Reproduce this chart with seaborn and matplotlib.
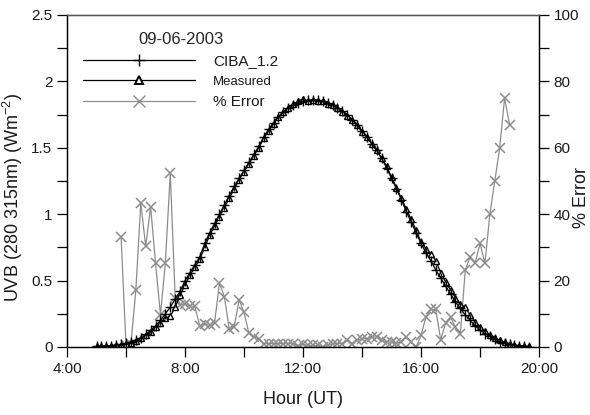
import numpy as np
import pandas as pd
import matplotlib
matplotlib.use("Agg")
import matplotlib.pyplot as plt
import seaborn as sns
from matplotlib.ticker import MultipleLocator, FuncFormatter
from matplotlib.lines import Line2D

# ---- data ----
# UVB series: 10-minute samples from 5:00 to 19:40 UT (hours)
uvb_hours = [5 + k / 6 for k in range(89)]
ciba = [0.004, 0.006, 0.008, 0.011, 0.015, 0.020, 0.027, 0.036, 0.05, 0.07,
        0.095, 0.125, 0.16, 0.20, 0.25, 0.30, 0.36, 0.42, 0.50, 0.56,
        0.62, 0.68, 0.78, 0.86, 0.93, 1.00, 1.07, 1.14, 1.21, 1.27,
        1.33, 1.39, 1.45, 1.51, 1.58, 1.64, 1.69, 1.73, 1.77, 1.80,
        1.82, 1.84, 1.85, 1.86, 1.86, 1.86, 1.85, 1.84, 1.82, 1.80,
        1.78, 1.75, 1.71, 1.67, 1.63, 1.58, 1.53, 1.48, 1.42, 1.35,
        1.27, 1.19, 1.11, 1.02, 0.94, 0.86, 0.78, 0.71, 0.65, 0.58,
        0.52, 0.46, 0.40, 0.34, 0.29, 0.24, 0.20, 0.16, 0.13, 0.10,
        0.08, 0.06, 0.04, 0.03, 0.02, 0.013, 0.008, 0.005, 0.003]
measured = [0.004, 0.005, 0.007, 0.010, 0.013, 0.018, 0.024, 0.033, 0.046, 0.065,
            0.088, 0.115, 0.15, 0.18, 0.22, 0.23, 0.30, 0.39, 0.47, 0.54,
            0.60, 0.66, 0.75, 0.84, 0.91, 0.98, 1.05, 1.12, 1.19, 1.26,
            1.32, 1.38, 1.44, 1.50, 1.57, 1.63, 1.68, 1.73, 1.77, 1.80,
            1.83, 1.85, 1.87, 1.85, 1.86, 1.85, 1.85, 1.83, 1.82, 1.80,
            1.77, 1.74, 1.71, 1.67, 1.62, 1.58, 1.53, 1.48, 1.42, 1.36,
            1.28, 1.20, 1.12, 1.04, 0.96, 0.88, 0.79, 0.74, 0.70, 0.65,
            0.56, 0.49, 0.43, 0.37, 0.32, 0.30, 0.24, 0.19, 0.15, 0.12,
            0.09, 0.07, 0.05, 0.035, 0.025, 0.016, 0.010, 0.006, 0.004]

# % Error: 10-minute samples from 5:50 to 19:00 UT
err_hours = [5 + 50 / 60 + k / 6 for k in range(80)]
err_pct = [33.0, 0.5, 1.0, 17.2, 43.4, 30.3, 42.2, 25.3, 9.7, 25.3,
           52.3, 14.7, 12.7, 13.0, 12.4, 12.2, 6.3, 6.9, 6.5, 7.2,
           19.2, 15.2, 5.3, 6.1, 14.2, 10.4, 4.1, 3.1, 2.5, 1.0,
           1.0, 1.0, 1.0, 1.0, 1.0, 1.0, 0.3, 0.8, 0.5, 0.5,
           0.5, 0.0, 0.5, 1.0, 1.0, 1.0, 2.0, 1.0, 2.0, 2.5,
           2.5, 3.0, 3.0, 2.2, 1.5, 1.5, 1.2, 1.5, 3.0, 1.5,
           0.0, 3.5, 9.0, 11.3, 11.3, 2.2, 7.1, 9.0, 6.0, 4.0,
           23.2, 27.2, 25.2, 31.2, 25.2, 40.0, 50.0, 60.0, 75.0, 67.0]

x_ticks = [4, 8, 12, 16, 20]

# ---- plot ----
sns.set_style("white")
plt.rcParams['font.family'] = ['Liberation Sans', 'DejaVu Sans']

fig = plt.figure(figsize=(5.9, 4.15), dpi=100)
ax = fig.add_axes([0.1136, 0.1639, 0.8, 0.8])
ax2 = ax.twinx()

df_uvb = pd.DataFrame({"hour": uvb_hours, "ciba": ciba, "meas": measured})
df_err = pd.DataFrame({"hour": err_hours, "err": err_pct})

gray = "#8c8c8c"
sns.lineplot(data=df_err, x="hour", y="err", ax=ax2, color=gray, lw=0.9,
             marker="x", markersize=7, markeredgewidth=1.1, markeredgecolor=gray)
sns.lineplot(data=df_uvb, x="hour", y="meas", ax=ax, color="black", lw=0.9,
             marker="^", markersize=5, markerfacecolor="white",
             markeredgecolor="black", markeredgewidth=1.0)
sns.lineplot(data=df_uvb, x="hour", y="ciba", ax=ax, color="black", lw=0.9,
             marker="+", markersize=7, markeredgewidth=1.0, markeredgecolor="black")

ax.set_zorder(ax2.get_zorder() + 1)
ax.patch.set_visible(False)

ax.set_xlim(4, 20)
ax.set_ylim(0, 2.5)
ax2.set_ylim(0, 100)
ax.set_xticks(x_ticks)
ax.xaxis.set_major_formatter(FuncFormatter(lambda v, p: f"{int(v)}:00"))
ax.xaxis.set_minor_locator(MultipleLocator(2))
ax.yaxis.set_major_locator(MultipleLocator(0.5))
ax.yaxis.set_minor_locator(MultipleLocator(0.25))
ax.yaxis.set_major_formatter(FuncFormatter(lambda v, p: f"{v:g}"))
ax2.yaxis.set_major_locator(MultipleLocator(20))
ax2.yaxis.set_minor_locator(MultipleLocator(10))

for a in (ax, ax2):
    for s in a.spines.values():
        s.set_color("black")
        s.set_linewidth(0.9)
    a.tick_params(which="both", direction="out", color="black", labelsize=11,
                  labelcolor="#1a1a1a")
    a.tick_params(which="major", length=7, width=0.9)
    a.tick_params(which="minor", length=7, width=0.9)
ax.tick_params(axis="both", which="both", bottom=True, left=True)
ax2.tick_params(axis="y", which="both", right=True)
ax.spines["top"].set_color("#555555")

ax.set_xlabel("Hour (UT)", fontsize=13, labelpad=11, color="#1a1a1a")
ax.set_ylabel("UVB (280 315nm) (Wm$^{\\mathregular{-2}}$)", fontsize=13, color="#1a1a1a")
ax.yaxis.set_label_coords(-0.088, 0.45)
ax2.set_ylabel("% Error", fontsize=13, color="#1a1a1a")
ax2.yaxis.set_label_coords(1.073, 0.45)

handles = [
    Line2D([], [], color="black", lw=0.9, marker="+", markersize=9, markeredgewidth=1.0),
    Line2D([], [], color="black", lw=0.9, marker="^", markersize=6,
           markerfacecolor="white", markeredgecolor="black", markeredgewidth=1.4),
    Line2D([], [], color=gray, lw=0.9, marker="x", markersize=9, markeredgewidth=1.0),
]
leg = ax.legend(handles, ["CIBA_1.2", "Measured", "% Error"], title="09-06-2003",
                loc="upper left", bbox_to_anchor=(0.005, 0.99), frameon=False,
                handlelength=7.3, handletextpad=1.2, labelspacing=0.45,
                fontsize=11, title_fontsize=12)
leg.get_texts()[1].set_fontsize(9.5)
for t in leg.get_texts():
    t.set_color("#1a1a1a")

fig.savefig("out.png", dpi=100, facecolor="white")
